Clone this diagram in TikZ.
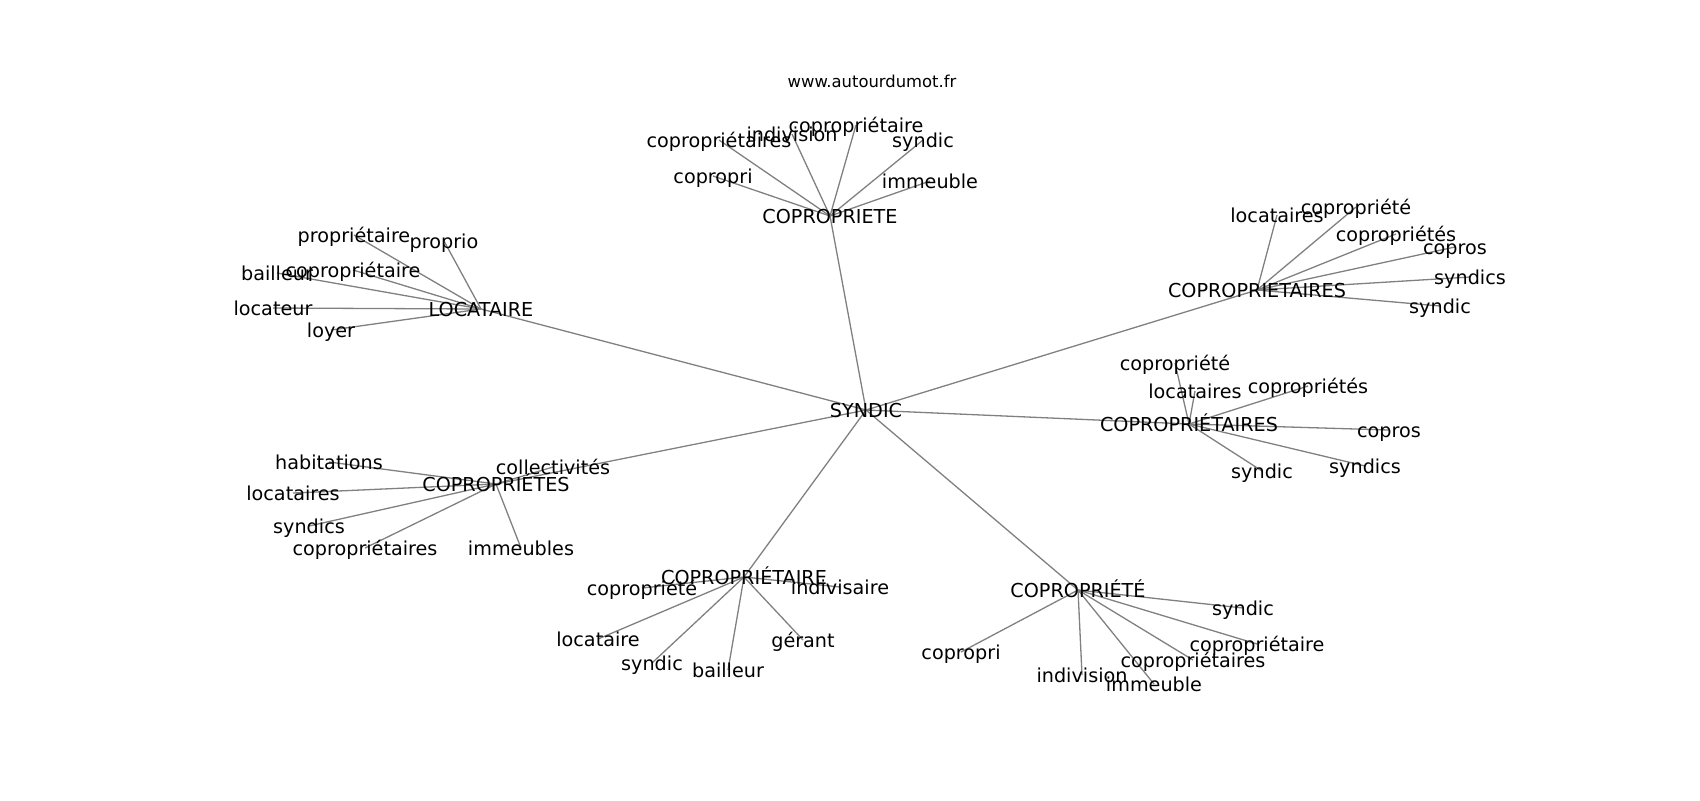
\documentclass[tikz,border=0pt]{standalone}
\usepackage{fontspec}
\setmainfont{DejaVu Sans}
\usetikzlibrary{backgrounds}
\definecolor{edgegray}{RGB}{128,128,128}
\tikzset{
  lbl/.style={font=\fontsize{9.6}{11}\selectfont, inner sep=0pt, text height=9.3pt, text depth=2pt, anchor=center},
  web/.style={font=\fontsize{8.2}{10}\selectfont, inner sep=0pt, text height=6.2pt, text depth=1.7pt, anchor=center},
  edge/.style={draw=edgegray, line width=0.65pt}
}
\begin{document}
\begin{tikzpicture}[x=0.5pt,y=-0.5pt]
\useasboundingbox (0,0) rectangle (1700,800);
\node[web] (web) at (872,83) {www.autourdumot.fr};
% centre
\node[lbl] (syn) at (866,410) {SYNDIC};
% hubs
\node[lbl] (h1) at (830,216) {COPROPRIETE};
\node[lbl] (h2) at (481,309) {LOCATAIRE};
\node[lbl] (h3) at (1257,290) {COPROPRIETAIRES};
\node[lbl] (h4) at (1189,424) {COPROPRIÉTAIRES};
\node[lbl] (h5) at (496,484) {COPROPRIÉTES};
\node[lbl] (h6) at (744,577) {COPROPRIÉTAIRE};
\node[lbl] (h7) at (1078,590) {COPROPRIÉTÉ};
% COPROPRIETE leaves
\node[lbl] (a1) at (719,140) {copropriétaires};
\node[lbl] (a2) at (792,134) {indivision};
\node[lbl] (a3) at (856,125) {copropriétaire};
\node[lbl] (a4) at (923,140) {syndic};
\node[lbl] (a5) at (713,176) {copropri};
\node[lbl] (a6) at (930,181) {immeuble};
% LOCATAIRE leaves
\node[lbl] (b1) at (354,235) {propriétaire};
\node[lbl] (b2) at (444,241) {proprio};
\node[lbl] (b3) at (277,273) {bailleur};
\node[lbl] (b4) at (353,270) {copropriétaire};
\node[lbl] (b5) at (273,308) {locateur};
\node[lbl] (b6) at (331,330) {loyer};
% COPROPRIETAIRES leaves
\node[lbl] (c1) at (1277,215) {locataires};
\node[lbl] (c2) at (1356,207) {copropriété};
\node[lbl] (c3) at (1396,234) {copropriétés};
\node[lbl] (c4) at (1455,247) {copros};
\node[lbl] (c5) at (1470,277) {syndics};
\node[lbl] (c6) at (1440,306) {syndic};
% COPROPRIÉTAIRES leaves
\node[lbl] (d1) at (1175,363) {copropriété};
\node[lbl] (d2) at (1195,391) {locataires};
\node[lbl] (d3) at (1308,386) {copropriétés};
\node[lbl] (d4) at (1389,430) {copros};
\node[lbl] (d5) at (1262,471) {syndic};
\node[lbl] (d6) at (1365,466) {syndics};
% COPROPRIÉTES leaves
\node[lbl] (e1) at (553,467) {collectivités};
\node[lbl] (e2) at (329,462) {habitations};
\node[lbl] (e3) at (293,493) {locataires};
\node[lbl] (e4) at (309,526) {syndics};
\node[lbl] (e5) at (365,548) {copropriétaires};
\node[lbl] (e6) at (521,548) {immeubles};
% COPROPRIÉTAIRE leaves
\node[lbl] (f1) at (642,588) {copropriété};
\node[lbl] (f2) at (840,587) {indivisaire};
\node[lbl] (f3) at (598,639) {locataire};
\node[lbl] (f4) at (652,663) {syndic};
\node[lbl] (f5) at (728,670) {bailleur};
\node[lbl] (f6) at (803,640) {gérant};
% COPROPRIÉTÉ leaves
\node[lbl] (g1) at (1243,608) {syndic};
\node[lbl] (g2) at (1257,644) {copropriétaire};
\node[lbl] (g3) at (1193,660) {copropriétaires};
\node[lbl] (g4) at (1154,684) {immeuble};
\node[lbl] (g5) at (1082,675) {indivision};
\node[lbl] (g6) at (961,652) {copropri};
\begin{scope}[on background layer]
\foreach \h in {h1,h2,h3,h4,h5,h6,h7} \draw[edge] (syn.center) -- (\h.center);
\foreach \l in {1,...,6} {
  \draw[edge] (h1.center) -- (a\l.center);
  \draw[edge] (h2.center) -- (b\l.center);
  \draw[edge] (h3.center) -- (c\l.center);
  \draw[edge] (h4.center) -- (d\l.center);
  \draw[edge] (h5.center) -- (e\l.center);
  \draw[edge] (h6.center) -- (f\l.center);
  \draw[edge] (h7.center) -- (g\l.center);
}
\end{scope}
\end{tikzpicture}
\end{document}
